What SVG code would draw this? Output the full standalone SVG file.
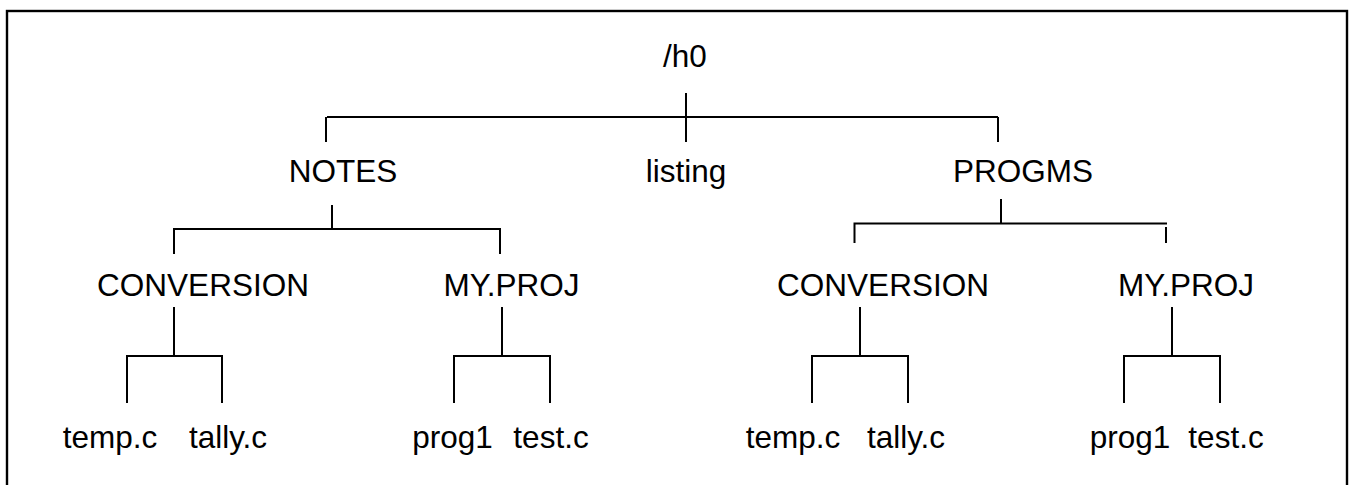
<svg xmlns="http://www.w3.org/2000/svg" width="1349" height="485" viewBox="0 0 1349 485">
  <style>
    .frame { fill: none; stroke: #000; stroke-width: 2.4; }
    .wire { fill: none; stroke: #000; stroke-width: 2; stroke-linecap: butt; }
    text { font-family: "Liberation Sans", Arial, sans-serif; font-size: 31.5px; fill: #000; text-anchor: middle; }
  </style>
  <rect width="1349" height="485" fill="#fff"/>
  <rect class="frame" x="7" y="11" width="1340" height="500"/>

  <!-- tree connectors -->
  <g id="connectors" class="wire">
    <!-- /h0 -> NOTES, listing, PROGMS -->
    <path d="M686 93 V142"/>
    <path d="M326 142 V117 M327 117 H998 M998 117 V142"/>
    <!-- NOTES -> CONVERSION, MY.PROJ -->
    <path d="M332 205 V229 M174 254 V229 H500 V254"/>
    <!-- PROGMS -> CONVERSION, MY.PROJ -->
    <path d="M1001 199 V224 M854.5 243 V223.5 H1167 M1166 227 V243"/>
    <!-- NOTES/CONVERSION -> temp.c, tally.c -->
    <path d="M174 307 V356 M127 403 V356 H222 V403"/>
    <!-- NOTES/MY.PROJ -> prog1, test.c -->
    <path d="M502 307 V356 M454 403 V356 H550 V403"/>
    <!-- PROGMS/CONVERSION -> temp.c, tally.c -->
    <path d="M860 307 V356 M812 403 V356 H908 V403"/>
    <!-- PROGMS/MY.PROJ -> prog1, test.c -->
    <path d="M1172 307 V356 M1124 403 V356 H1220 V403"/>
  </g>

  <g id="root"><text x="685" y="67">/h0</text></g>

  <g id="notes"><text x="343" y="182">NOTES</text></g>
  <g id="listing"><text x="686" y="182">listing</text></g>
  <g id="progms"><text x="1023" y="182">PROGMS</text></g>

  <g id="notes-conversion"><text x="203" y="296">CONVERSION</text></g>
  <g id="notes-myproj"><text x="511.5" y="296">MY.PROJ</text></g>
  <g id="progms-conversion"><text x="883" y="296">CONVERSION</text></g>
  <g id="progms-myproj"><text x="1186" y="296">MY.PROJ</text></g>

  <g id="notes-conversion-temp"><text x="110" y="448">temp.c</text></g>
  <g id="notes-conversion-tally"><text x="228" y="448">tally.c</text></g>
  <g id="notes-myproj-prog1"><text x="452.5" y="448">prog1</text></g>
  <g id="notes-myproj-test"><text x="551" y="448">test.c</text></g>
  <g id="progms-conversion-temp"><text x="793" y="448">temp.c</text></g>
  <g id="progms-conversion-tally"><text x="906" y="448">tally.c</text></g>
  <g id="progms-myproj-prog1"><text x="1130" y="448">prog1</text></g>
  <g id="progms-myproj-test"><text x="1226" y="448">test.c</text></g>
</svg>
